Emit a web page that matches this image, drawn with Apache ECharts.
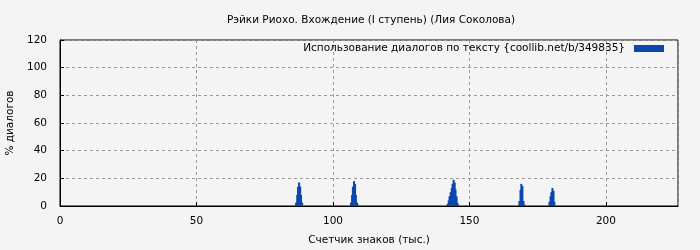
<!DOCTYPE html>
<html><head><meta charset="utf-8">
<script src="https://cdn.jsdelivr.net/npm/echarts@6/dist/echarts.min.js"></script>
<style>html,body{margin:0;padding:0;background:#f4f4f4}#c{width:700px;height:250px}</style>
</head><body><div id="c"></div>
<script>
var titleText = 'Рэйки Риохо. Вхождение (I ступень) (Лия Соколова)';
var seriesName = 'Использование диалогов по тексту {coollib.net/b/349835}';
var xTicks = [0, 50, 100, 150, 200];
var yTicks = [0, 20, 40, 60, 80, 100, 120];
// clusters: x positions (тыс. знаков) and % values
var c1x = [86.5, 86.9, 87.2, 87.6, 88.0, 88.3, 88.7];
var c1y = [2.5, 8, 14, 17, 14, 8, 2.5];
var c2x = [106.6, 107.0, 107.3, 107.7, 108.1, 108.4, 108.8, 109.2];
var c2y = [2.5, 8, 14, 18, 16, 8, 2.5, 1];
var c3x = [142.0, 142.4, 142.7, 143.1, 143.5, 143.8, 144.2, 144.6, 144.9, 145.3, 145.7];
var c3y = [1.5, 4, 7, 10, 13, 16, 19, 17, 12, 7, 2];
var c4x = [168.3, 168.7, 169.0, 169.4, 169.8, 170.1];
var c4y = [3.6, 11.6, 16, 14.5, 3.6, 1];
var c5x = [179.3, 179.7, 180.0, 180.4, 180.8, 181.1];
var c5y = [3, 7, 10, 13, 11, 3];

var data = [];
[[c1x,c1y],[c2x,c2y],[c3x,c3y],[c4x,c4y],[c5x,c5y]].forEach(function(c){
  for (var i=0;i<c[0].length;i++) data.push([c[0][i], c[1][i]]);
});
var font = 'DejaVu Sans';
var fs = 10.5;
var chart = echarts.init(document.getElementById('c'));
chart.setOption({
  backgroundColor: '#f4f4f4',
  animation: false,
  title: {text: titleText, left: 366, textAlign: 'center', top: 10,
    textStyle: {fontFamily: font, fontSize: fs, fontWeight: 'normal', color: '#000'}},
  legend: {right: 31, top: 38, itemWidth: 30, itemHeight: 7, itemGap: 8,
    align: 'right', icon: 'rect',
    textStyle: {fontFamily: font, fontSize: fs, color: '#000', padding: [0, 4, 0, 0]},
    data: [seriesName]},
  grid: {left: 60, right: 22, top: 40, bottom: 44, show: true, borderColor: '#000', borderWidth: 1,
    backgroundColor: 'transparent', containLabel: false, outerBoundsMode: 'none'},
  xAxis: {type: 'value', min: 0, max: 226.4, interval: 50,
    name: 'Счетчик знаков (тыс.)', nameLocation: 'middle', nameGap: 29,
    nameTextStyle: {fontFamily: font, fontSize: fs, color: '#000'},
    axisLine: {show: true, lineStyle: {color: '#000'}},
    axisTick: {show: true, inside: true, length: 4, lineStyle: {color: '#000'}},
    axisLabel: {fontFamily: font, fontSize: fs, color: '#000', margin: 10,
      showMaxLabel: false,
      formatter: function(v){ return xTicks.indexOf(v) >= 0 ? String(v) : ''; }},
    splitLine: {show: true, lineStyle: {color: '#999', type: [3, 3]}}},
  yAxis: {type: 'value', min: 0, max: 120, interval: 20,
    name: '% диалогов', nameLocation: 'middle', nameGap: 44, nameRotate: 90,
    nameTextStyle: {fontFamily: font, fontSize: fs, color: '#000'},
    axisLine: {show: true, lineStyle: {color: '#000'}},
    axisTick: {show: true, inside: true, length: 4, lineStyle: {color: '#000'}},
    axisLabel: {fontFamily: font, fontSize: fs, color: '#000', margin: 13,
      formatter: function(v){ return yTicks.indexOf(v) >= 0 ? String(v) : ''; }},
    splitLine: {show: true, lineStyle: {color: '#999', type: [3, 3]}}},
  series: [{name: seriesName, type: 'bar', data: data, barWidth: 2,
    barGap: '-100%', itemStyle: {color: '#0b47ad'}}]
});
</script></body></html>
